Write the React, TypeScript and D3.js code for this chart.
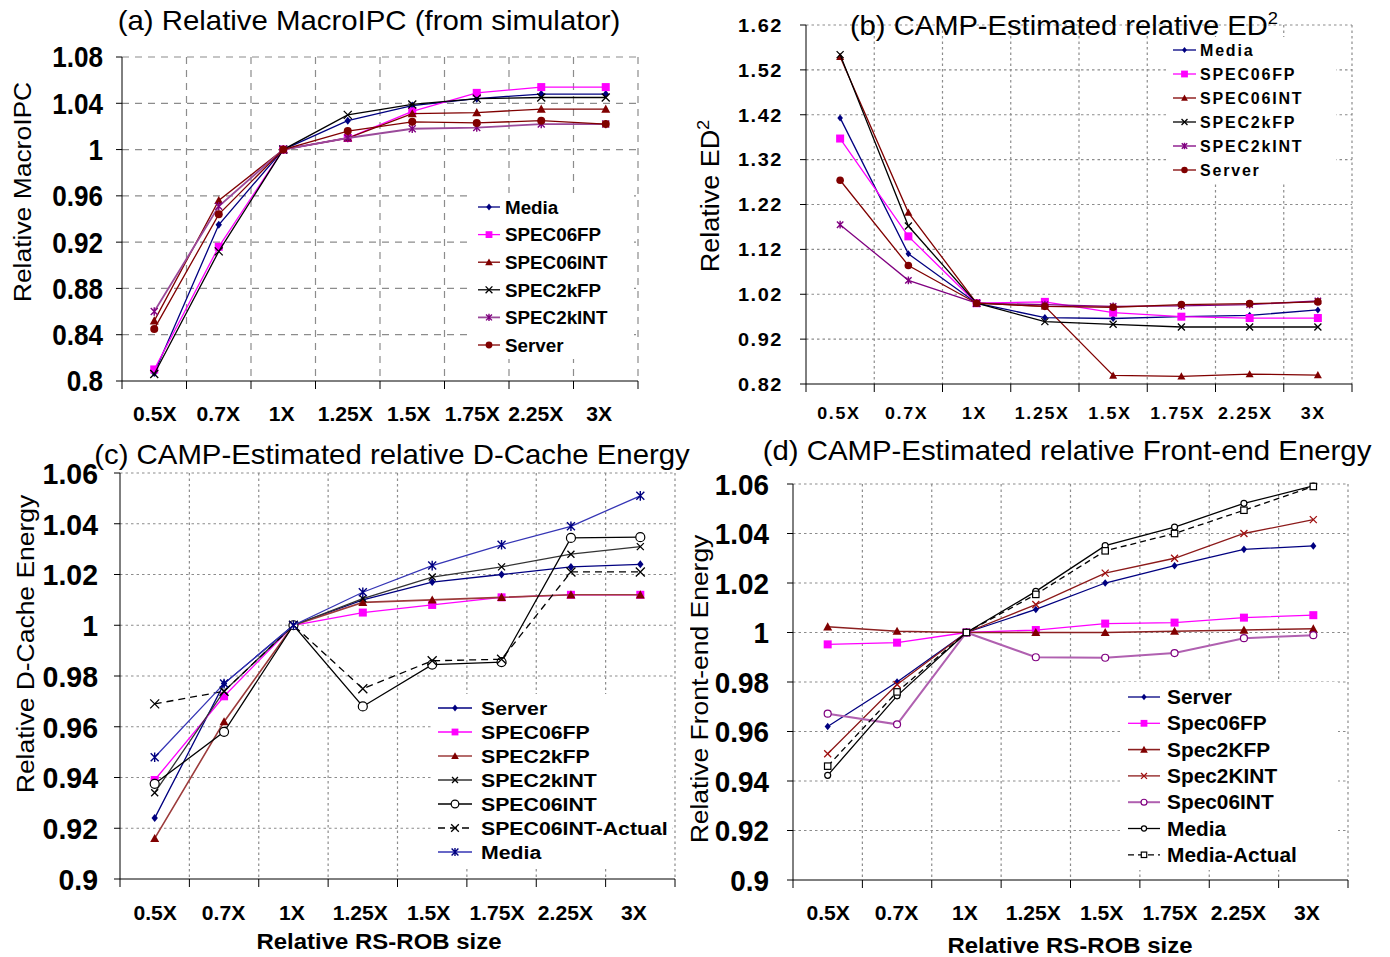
import React from 'react';
import * as d3 from 'd3';

const categories = ['0.5X', '0.7X', '1X', '1.25X', '1.5X', '1.75X', '2.25X', '3X'];

// (a) relative MacroIPC
const ipcMedia = [0.807, 0.935, 1.0, 1.025, 1.038, 1.044, 1.048, 1.048];
const ipcSpec06fp = [0.81, 0.916, 1.0, 1.01, 1.033, 1.049, 1.054, 1.054];
const ipcSpec06int = [0.852, 0.956, 1.0, 1.01, 1.031, 1.032, 1.035, 1.035];
const ipcSpec2kfp = [0.806, 0.912, 1.0, 1.03, 1.039, 1.044, 1.045, 1.045];
const ipcSpec2kint = [0.86, 0.951, 1.0, 1.01, 1.018, 1.019, 1.022, 1.022];
const ipcServer = [0.845, 0.944, 1.0, 1.016, 1.024, 1.023, 1.025, 1.022];
const ipcTicks = [0.8, 0.84, 0.88, 0.92, 0.96, 1.0, 1.04, 1.08];

// (b) relative ED^2
const ed2Media = [1.413, 1.11, 1.0, 0.968, 0.966, 0.97, 0.973, 0.985];
const ed2Spec06fp = [1.367, 1.149, 1.0, 1.003, 0.979, 0.97, 0.967, 0.967];
const ed2Spec06int = [1.549, 1.202, 1.0, 0.993, 0.839, 0.837, 0.842, 0.84];
const ed2Spec2kfp = [1.554, 1.172, 1.0, 0.959, 0.953, 0.947, 0.947, 0.947];
const ed2Spec2kint = [1.175, 1.051, 1.0, 0.997, 0.993, 0.994, 0.997, 1.005];
const ed2Server = [1.274, 1.084, 1.0, 0.993, 0.991, 0.997, 0.999, 1.003];
const ed2Ticks = [0.82, 0.92, 1.02, 1.12, 1.22, 1.32, 1.42, 1.52, 1.62];

// (c) relative D-Cache energy
const dcServer = [0.924, 0.977, 1.0, 1.01, 1.017, 1.02, 1.023, 1.024];
const dcSpec06fp = [0.939, 0.972, 1.0, 1.005, 1.008, 1.011, 1.012, 1.012];
const dcSpec2kfp = [0.916, 0.962, 1.0, 1.009, 1.01, 1.011, 1.012, 1.012];
const dcSpec2kint = [0.934, 0.974, 1.0, 1.0105, 1.019, 1.023, 1.028, 1.031];
const dcSpec06int = [0.9375, 0.958, 1.0, 0.968, 0.9845, 0.9855, 1.0344, 1.0347];
const dcSpec06intActual = [0.969, 0.974, 1.0, 0.975, 0.986, 0.9866, 1.021, 1.021];
const dcMedia = [0.948, 0.977, 1.0, 1.013, 1.0235, 1.0317, 1.039, 1.051];
const dcTicks = [0.9, 0.92, 0.94, 0.96, 0.98, 1.0, 1.02, 1.04, 1.06];

// (d) relative front-end energy
const feServer = [0.962, 0.98, 1.0, 1.0093, 1.02, 1.027, 1.0336, 1.035];
const feSpec06fp = [0.9952, 0.9959, 1.0, 1.001, 1.0036, 1.004, 1.006, 1.007];
const feSpec2kfp = [1.0023, 1.0005, 1.0, 1.0, 1.0, 1.0005, 1.001, 1.0015];
const feSpec2kint = [0.951, 0.979, 1.0, 1.0113, 1.024, 1.03, 1.04, 1.0456];
const feSpec06int = [0.9672, 0.9629, 1.0, 0.99, 0.9898, 0.9917, 0.9977, 0.9989];
const feMedia = [0.9423, 0.9744, 1.0, 1.0166, 1.0351, 1.0426, 1.0522, 1.0592];
const feMediaActual = [0.946, 0.976, 1.0, 1.0154, 1.033, 1.04, 1.0494, 1.059];
const feTicks = [0.9, 0.92, 0.94, 0.96, 0.98, 1.0, 1.02, 1.04, 1.06];

const FONT = '"Liberation Sans", Arial, Helvetica, sans-serif';

const NAVY = '#000080';
const MAG = '#ff00ff';
const DRED = '#800000';
const PURP = '#800080';

type Series = {
  name: string;
  values: number[];
  color: string;
  lineColor?: string;
  marker: string;
  size: number;
  dash?: string;
  width?: number;
};

// text with an optional horizontal squeeze / stretch
function T(props: any) {
  const { x, y, rotate = 0, sx = 1.08, children, ...rest } = props;
  return (
    <g transform={`translate(${x},${y}) rotate(${rotate}) scale(${sx},1)`}>
      <text x={0} y={0} fontFamily={FONT} {...rest}>
        {children}
      </text>
    </g>
  );
}

function Marker({ type, x, y, color, s }: any) {
  switch (type) {
    case 'diamond':
      return <path d={`M${x},${y - s}L${x + s * 0.8},${y}L${x},${y + s}L${x - s * 0.8},${y}Z`} fill={color} />;
    case 'square':
      return <rect x={x - s} y={y - s} width={2 * s} height={2 * s} fill={color} />;
    case 'triangle':
      return <path d={`M${x},${y - s}L${x + s},${y + s * 0.8}L${x - s},${y + s * 0.8}Z`} fill={color} />;
    case 'x':
      return (
        <path d={`M${x - s},${y - s}L${x + s},${y + s}M${x - s},${y + s}L${x + s},${y - s}`} stroke={color} strokeWidth={1.3} fill="none" />
      );
    case 'star':
      return (
        <path
          d={`M${x - s},${y - s}L${x + s},${y + s}M${x - s},${y + s}L${x + s},${y - s}M${x},${y - s * 1.2}L${x},${y + s * 1.2}`}
          stroke={color}
          strokeWidth={1.4}
          fill="none"
        />
      );
    case 'circle':
      return <circle cx={x} cy={y} r={s} fill={color} />;
    case 'ocircle':
      return <circle cx={x} cy={y} r={s} fill="white" stroke={color} strokeWidth={1.2} />;
    case 'osquare':
      return <rect x={x - s} y={y - s} width={2 * s} height={2 * s} fill="white" stroke={color} strokeWidth={1.2} />;
    default:
      return null;
  }
}

function Panel({ cfg }: { cfg: any }) {
  const x = d3.scaleBand<string>().domain(categories).range([cfg.x0, cfg.x1]).padding(0);
  const y = d3.scaleLinear().domain(cfg.domain).range([cfg.yBot, cfg.yTop]);
  const bw = x.bandwidth();
  const cx = (i: number) => (x(categories[i]) as number) + bw / 2;
  const line = d3
    .line<number>()
    .x((_, i) => cx(i))
    .y((v) => y(v));
  const dash = cfg.grid === 'dash' ? '7,6' : '2.5,3';
  const gridColor = '#8c8c8c';
  const boundaries = categories.map((c) => x(c) as number).concat([cfg.x1]);
  const lg = cfg.legend;
  const fmt = (v: number) => String(+v.toFixed(2));

  return (
    <g>
      {/* grid */}
      {cfg.ticks.slice(1).map((t: number) => (
        <line key={'h' + t} x1={cfg.x0} x2={cfg.x1} y1={y(t)} y2={y(t)} stroke={gridColor} strokeWidth={1.2} strokeDasharray={dash} />
      ))}
      {boundaries.slice(1).map((b: number, i: number) => (
        <line key={'v' + i} x1={b} x2={b} y1={cfg.yTop} y2={cfg.yBot} stroke={gridColor} strokeWidth={1.2} strokeDasharray={dash} />
      ))}
      {/* axes */}
      <line x1={cfg.x0} x2={cfg.x0} y1={cfg.yTop} y2={cfg.yBot} stroke="#000" strokeWidth={1} />
      <line x1={cfg.x0} x2={cfg.x1} y1={cfg.yBot} y2={cfg.yBot} stroke="#000" strokeWidth={1} />
      {cfg.ticks.map((t: number) => (
        <line key={'yt' + t} x1={cfg.x0 - 6} x2={cfg.x0} y1={y(t)} y2={y(t)} stroke="#000" />
      ))}
      {boundaries.map((b: number, i: number) => (
        <line key={'xt' + i} x1={b} x2={b} y1={cfg.yBot} y2={cfg.yBot + 8} stroke="#000" />
      ))}
      {/* tick labels */}
      {cfg.ticks.map((t: number) => (
        <T
          key={'yl' + t}
          x={cfg.yLabelRight}
          y={y(t) + cfg.tickFont * 0.36}
          sx={cfg.tickSX}
          textAnchor="end"
          fontWeight="bold"
          fontSize={cfg.tickFont}
          letterSpacing={cfg.tickLS || 0}
        >
          {fmt(t)}
        </T>
      ))}
      {categories.map((c, i) => (
        <T
          key={'xl' + c}
          x={cx(i) + cfg.xLabelShift * (i - 3.5) - 3}
          y={cfg.xLabelY}
          sx={cfg.xSX}
          textAnchor="middle"
          fontWeight="bold"
          fontSize={cfg.xFont}
          letterSpacing={cfg.xLS || 0}
        >
          {c}
        </T>
      ))}
      {/* series */}
      {cfg.series.map((s: Series) => (
        <g key={s.name}>
          <path
            d={line(s.values) as string}
            fill="none"
            stroke={s.lineColor || s.color}
            strokeWidth={s.width || 1.3}
            strokeDasharray={s.dash}
          />
          {s.values.map((v, i) => (
            <Marker key={i} type={s.marker} x={cx(i)} y={y(v)} color={s.color} s={s.size} />
          ))}
        </g>
      ))}
      {/* legend */}
      <rect x={lg.box[0]} y={lg.box[1]} width={lg.box[2]} height={lg.box[3]} fill="white" />
      {cfg.series.map((s: Series, i: number) => {
        const ry = lg.y + i * lg.step;
        return (
          <g key={'lg' + s.name}>
            <line
              x1={lg.x}
              x2={lg.x + lg.len}
              y1={ry}
              y2={ry}
              stroke={s.lineColor || s.color}
              strokeWidth={s.width || 1.3}
              strokeDasharray={s.dash}
            />
            <Marker type={s.marker} x={lg.x + lg.len / 2} y={ry} color={s.color} s={s.size * 0.85} />
            <T x={lg.textX} y={ry + lg.font * 0.36} sx={lg.sx} fontWeight="bold" fontSize={lg.font} letterSpacing={lg.ls || 0}>
              {s.name}
            </T>
          </g>
        );
      })}
    </g>
  );
}

const panelA = {
  x0: 122, x1: 638, yTop: 57, yBot: 381, domain: [0.8, 1.08], ticks: ipcTicks, grid: 'dash',
  yLabelRight: 103, tickFont: 29, tickSX: 0.9, xLabelY: 421, xFont: 20.5, xSX: 1.03, xLabelShift: -1,
  legend: { x: 478, len: 22, textX: 505, y: 207, step: 27.6, font: 19, sx: 0.99, box: [470, 193, 164, 166] },
  series: [
    { name: 'Media', values: ipcMedia, color: NAVY, marker: 'diamond', size: 4 },
    { name: 'SPEC06FP', values: ipcSpec06fp, color: MAG, marker: 'square', size: 4 },
    { name: 'SPEC06INT', values: ipcSpec06int, color: DRED, marker: 'triangle', size: 4.5 },
    { name: 'SPEC2kFP', values: ipcSpec2kfp, color: '#000', marker: 'x', size: 4 },
    { name: 'SPEC2kINT', values: ipcSpec2kint, color: PURP, lineColor: '#9a4a9a', marker: 'star', size: 3.5, width: 1.8 },
    { name: 'Server', values: ipcServer, color: DRED, marker: 'circle', size: 4 },
  ],
};

const panelB = {
  x0: 806, x1: 1352, yTop: 25, yBot: 384, domain: [0.82, 1.62], ticks: ed2Ticks, grid: 'dot',
  yLabelRight: 783, tickFont: 19, tickSX: 1.05, tickLS: 1.5, xLabelY: 419, xFont: 17, xSX: 1.05, xLS: 1.5, xLabelShift: -0.5,
  legend: { x: 1173, len: 23, textX: 1200, y: 50, step: 24, font: 16, sx: 1.0, ls: 1.8, box: [1166, 37, 170, 145] },
  series: [
    { name: 'Media', values: ed2Media, color: NAVY, marker: 'diamond', size: 3.5 },
    { name: 'SPEC06FP', values: ed2Spec06fp, color: MAG, marker: 'square', size: 4 },
    { name: 'SPEC06INT', values: ed2Spec06int, color: DRED, marker: 'triangle', size: 4 },
    { name: 'SPEC2kFP', values: ed2Spec2kfp, color: '#000', marker: 'x', size: 3.5 },
    { name: 'SPEC2kINT', values: ed2Spec2kint, color: PURP, marker: 'star', size: 3.2 },
    { name: 'Server', values: ed2Server, color: DRED, marker: 'circle', size: 3.8 },
  ],
};

const panelC = {
  x0: 120, x1: 675, yTop: 473, yBot: 879, domain: [0.9, 1.06], ticks: dcTicks, grid: 'dot',
  yLabelRight: 98, tickFont: 30, tickSX: 0.95, xLabelY: 920, xFont: 20.5, xSX: 1.03, xLabelShift: -1,
  legend: { x: 438, len: 34, textX: 481, y: 708, step: 24, font: 19, sx: 1.12, box: [432, 694, 240, 172] },
  series: [
    { name: 'Server', values: dcServer, color: NAVY, marker: 'diamond', size: 4 },
    { name: 'SPEC06FP', values: dcSpec06fp, color: MAG, marker: 'square', size: 4 },
    { name: 'SPEC2kFP', values: dcSpec2kfp, color: DRED, lineColor: '#9c3b3b', marker: 'triangle', size: 4.5, width: 1.6 },
    { name: 'SPEC2kINT', values: dcSpec2kint, color: '#000', lineColor: '#333', marker: 'x', size: 3.5 },
    { name: 'SPEC06INT', values: dcSpec06int, color: '#000', marker: 'ocircle', size: 4.5 },
    { name: 'SPEC06INT-Actual', values: dcSpec06intActual, color: '#000', marker: 'x', size: 4.5, dash: '7,5' },
    { name: 'Media', values: dcMedia, color: NAVY, lineColor: '#3535b5', marker: 'star', size: 4 },
  ],
};

const panelD = {
  x0: 793, x1: 1348, yTop: 484, yBot: 880, domain: [0.9, 1.06], ticks: feTicks, grid: 'dot',
  yLabelRight: 769, tickFont: 30, tickSX: 0.93, xLabelY: 920, xFont: 20.5, xSX: 1.03, xLabelShift: -1,
  legend: { x: 1128, len: 32, textX: 1167, y: 697, step: 26.3, font: 19.5, sx: 1.07, box: [1122, 682, 216, 188] },
  series: [
    { name: 'Server', values: feServer, color: NAVY, marker: 'diamond', size: 3.8 },
    { name: 'Spec06FP', values: feSpec06fp, color: MAG, marker: 'square', size: 4 },
    { name: 'Spec2KFP', values: feSpec2kfp, color: DRED, lineColor: '#8c2020', marker: 'triangle', size: 4.5, width: 1.6 },
    { name: 'Spec2KINT', values: feSpec2kint, color: '#a01010', lineColor: '#8c1a1a', marker: 'x', size: 3.5 },
    { name: 'Spec06INT', values: feSpec06int, color: PURP, lineColor: '#b060b0', marker: 'ocircle', size: 3.5, width: 2 },
    { name: 'Media', values: feMedia, color: '#000', marker: 'ocircle', size: 3 },
    { name: 'Media-Actual', values: feMediaActual, color: '#000', marker: 'osquare', size: 3.2, dash: '6,4' },
  ],
};

export default function App() {
  return (
    <div style={{ position: 'absolute', left: 0, top: 0 }}>
      <svg width={1390} height={957} style={{ display: 'block', background: '#fff' }}>
        <defs>
          <clipPath id="clipD">
            <rect x={690} y={430} width={700} height={527} />
          </clipPath>
        </defs>
        <Panel cfg={panelA} />
        <Panel cfg={panelB} />
        <Panel cfg={panelC} />
        <Panel cfg={panelD} />

        {/* titles */}
        <T x={369} y={30} textAnchor="middle" fontSize={27.2}>(a) Relative MacroIPC (from simulator)</T>
        <T x={1064} y={35} textAnchor="middle" fontSize={27}>
          (b) CAMP-Estimated relative ED<tspan dy={-11} fontSize={17}>2</tspan>
        </T>
        <T x={392} y={464} textAnchor="middle" fontSize={27.2}>(c) CAMP-Estimated relative D-Cache Energy</T>
        <T x={1067} y={460} textAnchor="middle" fontSize={27.2}>(d) CAMP-Estimated relative Front-end Energy</T>

        {/* axis titles */}
        <T x={31} y={192} rotate={-90} textAnchor="middle" fontSize={24.5}>Relative MacroIPC</T>
        <T x={719} y={196} rotate={-90} textAnchor="middle" fontSize={25}>
          Relative ED<tspan dy={-10} fontSize={17}>2</tspan>
        </T>
        <T x={34} y={644} rotate={-90} textAnchor="middle" fontSize={24.5}>Relative D-Cache Energy</T>
        <g clipPath="url(#clipD)">
          <T x={708} y={689} rotate={-90} textAnchor="middle" fontSize={24.5}>Relative Front-end Energy</T>
        </g>
        <T x={379} y={949} sx={1.09} textAnchor="middle" fontSize={22} fontWeight="bold">Relative RS-ROB size</T>
        <T x={1070} y={953} sx={1.09} textAnchor="middle" fontSize={22} fontWeight="bold">Relative RS-ROB size</T>
      </svg>
    </div>
  );
}
